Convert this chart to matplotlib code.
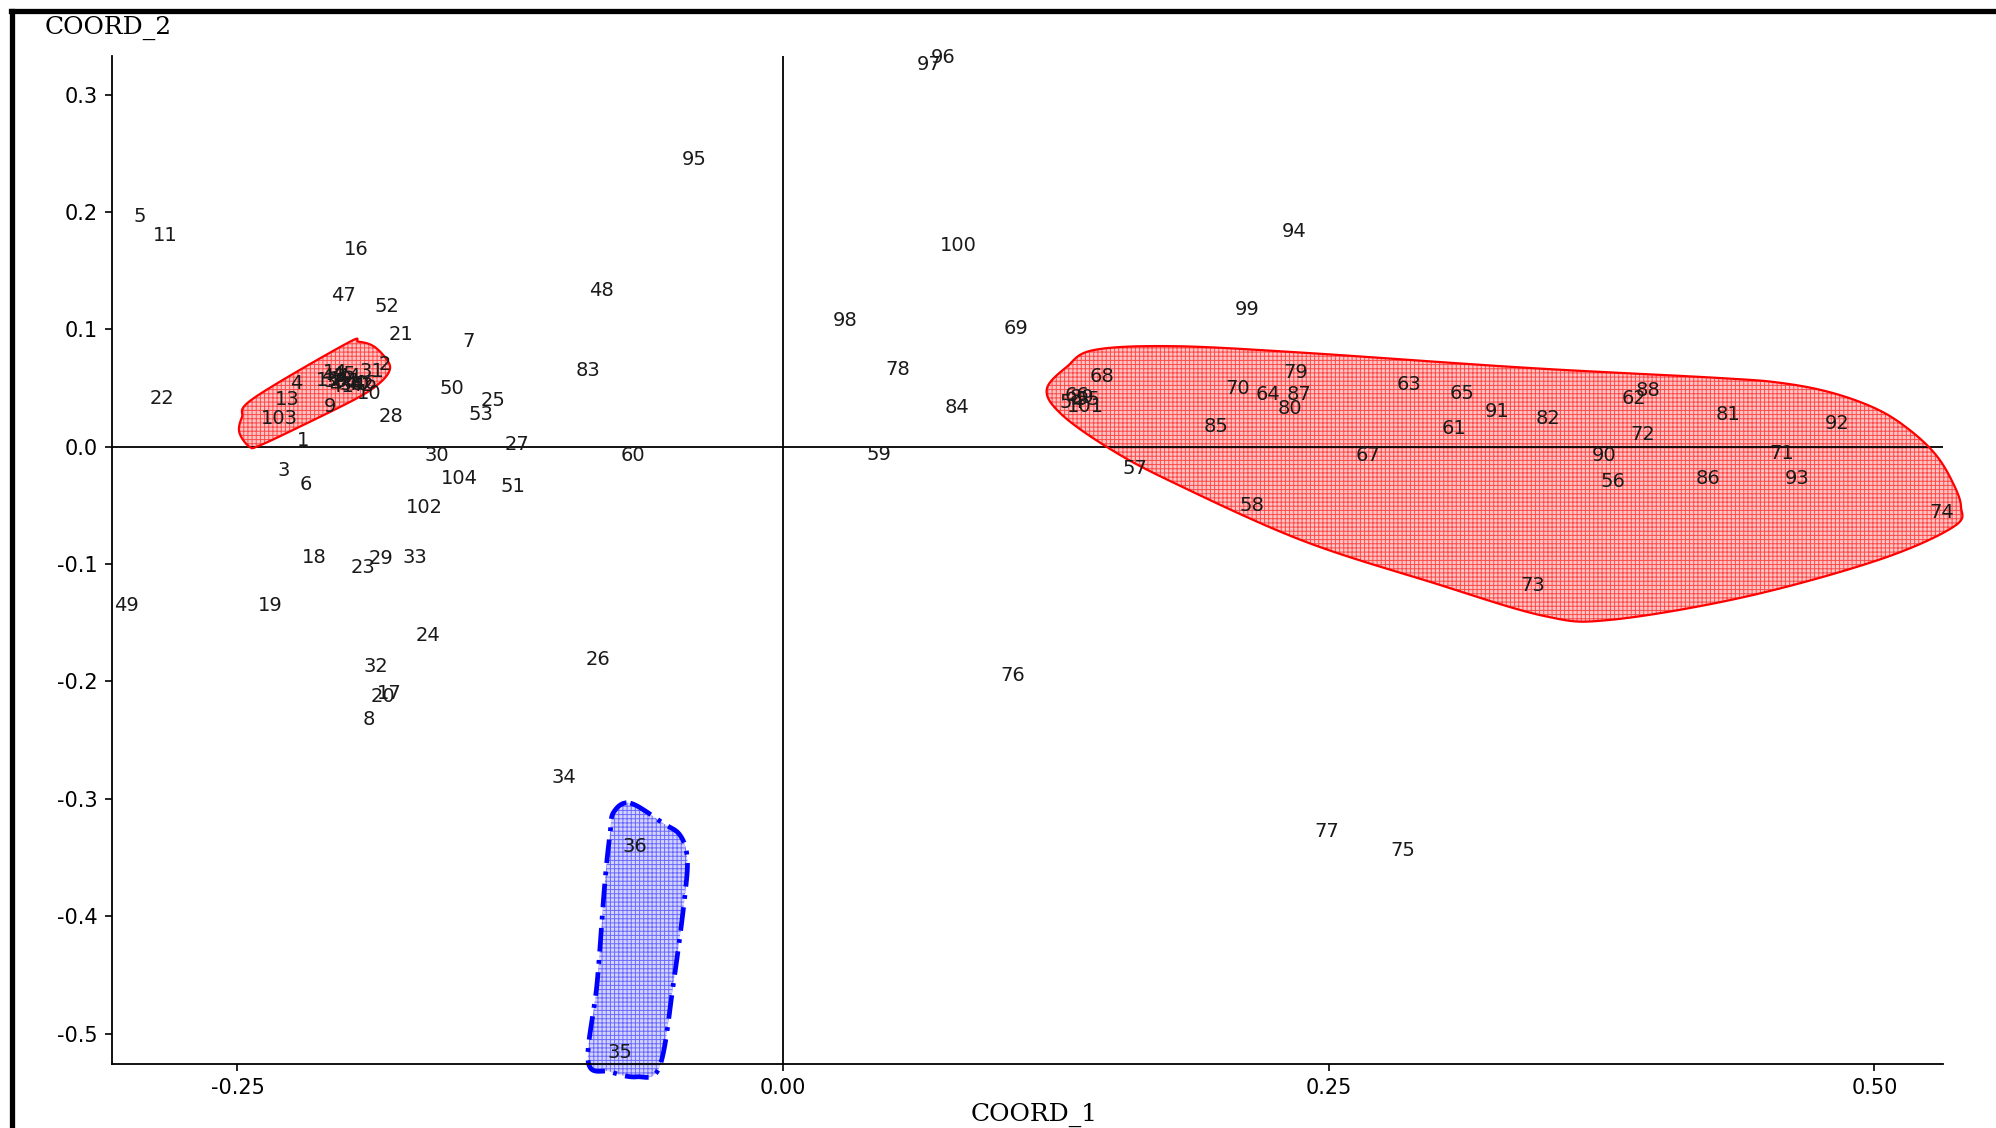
import numpy as np
import matplotlib
matplotlib.use("Agg")
import matplotlib.pyplot as plt
from matplotlib.patches import Polygon
from matplotlib.lines import Line2D

plt.rcParams['hatch.linewidth'] = 0.7

# Sample identifiers with their scores on the first two principal coordinates
labels = [
    "5", "11", "16", "47", "52", "21", "7", "48", "95", "83",
    "22", "50", "25", "53", "28", "10", "9", "13", "103", "4",
    "31", "2", "14", "15", "12", "37", "38", "39", "40", "41",
    "42", "43", "44", "45", "46", "1", "3", "6", "30", "27",
    "104", "51", "60", "102", "18", "29", "23", "33", "49", "19",
    "24", "26", "32", "17", "20", "8", "34", "36", "35",
    "96", "97", "100", "94", "98", "69", "99", "78", "84", "59",
    "68", "66", "89", "101", "54", "55", "70", "64", "87", "79",
    "80", "85", "57", "63", "65", "91", "82", "61", "67", "62",
    "88", "72", "90", "56", "81", "86", "92", "71", "93", "74",
    "73", "58", "76", "77", "75",
]
coord_1 = [
    -0.2946, -0.2830, -0.1955, -0.2013, -0.1814, -0.1750, -0.1441, -0.0834, -0.0408, -0.0893,
    -0.2847, -0.1517, -0.1330, -0.1383, -0.1797, -0.1896, -0.2077, -0.2270, -0.2310, -0.2229,
    -0.1884, -0.1826, -0.2054, -0.2083, -0.2025, -0.2001, -0.1978, -0.2048, -0.1954, -0.2025,
    -0.1931, -0.2060, -0.1990, -0.2013, -0.1920, -0.2200, -0.2287, -0.2188, -0.1587, -0.1219,
    -0.1482, -0.1237, -0.0688, -0.1645, -0.2147, -0.1844, -0.1925, -0.1686, -0.3011, -0.2351,
    -0.1628, -0.0846, -0.1867, -0.1803, -0.1832, -0.1896, -0.1004, -0.0677, -0.0747,
    0.0735, 0.0671, 0.0805, 0.2340, 0.0286, 0.1068, 0.2124, 0.0525, 0.0799, 0.0438,
    0.1459, 0.1348, 0.1371, 0.1383, 0.1325, 0.1395, 0.2083, 0.2223, 0.2363, 0.2351,
    0.2322, 0.1984, 0.1610, 0.2870, 0.3110, 0.3273, 0.3506, 0.3075, 0.2678, 0.3897,
    0.3961, 0.3938, 0.3763, 0.3804, 0.4329, 0.4236, 0.4831, 0.4574, 0.4644, 0.5309,
    0.3436, 0.2147, 0.1050, 0.2491, 0.2841,
]
coord_2 = [
    0.1963, 0.1800, 0.1681, 0.1291, 0.1193, 0.0954, 0.0900, 0.1334, 0.2451, 0.0651,
    0.0412, 0.0499, 0.0390, 0.0271, 0.0260, 0.0456, 0.0347, 0.0401, 0.0239, 0.0542,
    0.0640, 0.0705, 0.0629, 0.0564, 0.0575, 0.0553, 0.0531, 0.0553, 0.0531, 0.0510,
    0.0520, 0.0597, 0.0597, 0.0618, 0.0542, 0.0054, -0.0206, -0.0325, -0.0076, 0.0022,
    -0.0271, -0.0336, -0.0076, -0.0521, -0.0944, -0.0954, -0.1030, -0.0944, -0.1356, -0.1356,
    -0.1605, -0.1811, -0.1876, -0.2104, -0.2126, -0.2321, -0.2820, -0.3406, -0.5163,
    0.3319, 0.3254, 0.1714, 0.1833, 0.1074, 0.1009, 0.1171, 0.0662, 0.0336, -0.0065,
    0.0597, 0.0434, 0.0423, 0.0347, 0.0380, 0.0401, 0.0499, 0.0445, 0.0445, 0.0629,
    0.0325, 0.0174, -0.0184, 0.0531, 0.0456, 0.0304, 0.0239, 0.0152, -0.0076, 0.0412,
    0.0477, 0.0108, -0.0076, -0.0293, 0.0271, -0.0271, 0.0195, -0.0054, -0.0271, -0.0564,
    -0.1182, -0.0499, -0.1952, -0.3275, -0.3438,
]

# Envelope outlines of the highlighted groups
group_left_x = [-0.2445, -0.2491, -0.2480, -0.2427, -0.2000, -0.1945, -0.1875, -0.1814,
                -0.1803, -0.1849, -0.1954, -0.2211, -0.2398]
group_left_y = [0.0000, 0.0119, 0.0249, 0.0412, 0.0880, 0.0895, 0.0855, 0.0738,
                0.0651, 0.0542, 0.0412, 0.0174, 0.0011]

group_right_x = [0.1208, 0.1301, 0.1424, 0.1785, 0.2369, 0.3413, 0.4288, 0.4580,
                 0.4813, 0.5018, 0.5163, 0.5280, 0.5356, 0.5397, 0.5362, 0.5018,
                 0.4405, 0.3792, 0.3489, 0.2981, 0.2369, 0.1762, 0.1482, 0.1272]
group_right_y = [0.0488, 0.0683, 0.0824, 0.0857, 0.0803, 0.0672, 0.0586, 0.0542,
                 0.0456, 0.0315, 0.0141, -0.0065, -0.0293, -0.0510, -0.0683, -0.0965,
                 -0.1280, -0.1475, -0.1443, -0.1161, -0.0792, -0.0282, 0.0000, 0.0282]

group_blue_x = [-0.0700, -0.0548, -0.0473, -0.0440, -0.0449, -0.0502, -0.0566,
                -0.0671, -0.0793, -0.0893, -0.0852, -0.0817, -0.0793, -0.0776]
group_blue_y = [-0.3037, -0.3210, -0.3308, -0.3492, -0.3807, -0.4566, -0.5282,
                -0.5369, -0.5325, -0.5239, -0.4566, -0.3720, -0.3297, -0.3113]

x_ticks = [-0.25, 0.00, 0.25, 0.50]
x_tick_labels = ["-0.25", "0.00", "0.25", "0.50"]
y_ticks = [0.3, 0.2, 0.1, 0.0, -0.1, -0.2, -0.3, -0.4, -0.5]
y_tick_labels = ["0.3", "0.2", "0.1", "0.0", "-0.1", "-0.2", "-0.3", "-0.4", "-0.5"]


def smooth_closed(xs, ys, n=16):
    """Closed Catmull-Rom spline through the outline vertices."""
    p = np.column_stack([xs, ys])
    m = len(p)
    out = []
    for i in range(m):
        p0, p1, p2, p3 = p[i - 1], p[i], p[(i + 1) % m], p[(i + 2) % m]
        t = np.linspace(0, 1, n, endpoint=False)[:, None]
        seg = 0.5 * ((2 * p1) + (-p0 + p2) * t
                     + (2 * p0 - 5 * p1 + 4 * p2 - p3) * t ** 2
                     + (-p0 + 3 * p1 - 3 * p2 + p3) * t ** 3)
        out.append(seg)
    return np.vstack(out)


fig = plt.figure(figsize=(19.96, 11.28), dpi=100)
ax = fig.add_axes([0.0561, 0.0567, 0.9174, 0.8937])
ax.set_xlim(-0.3075, 0.5315)
ax.set_ylim(-0.526, 0.333)


def envelope(xs, ys, face, hatch_col, edge, ls, lw):
    pts = smooth_closed(xs, ys)
    fill = Polygon(pts, closed=True, facecolor=face, edgecolor=hatch_col,
                   hatch='++++', linewidth=0, clip_on=False, zorder=1)
    ax.add_patch(fill)
    line = Polygon(pts, closed=True, fill=False, edgecolor=edge,
                   linestyle=ls, linewidth=lw, clip_on=False, zorder=2)
    ax.add_patch(line)


envelope(group_left_x, group_left_y, '#ffc4c4', '#ff4a4a', '#ff0000', '-', 1.6)
envelope(group_right_x, group_right_y, '#ffc4c4', '#ff4a4a', '#ff0000', '-', 1.6)
envelope(group_blue_x, group_blue_y, '#d4d4ff', '#6a6aff', '#0000ff',
         (0, (5, 1.8, 0.8, 1.8)), 3.4)

ax.axhline(0, color='black', lw=1.3, zorder=1.5)
ax.axvline(0, color='black', lw=1.3, zorder=1.5)

for lab, x, y in zip(labels, coord_1, coord_2):
    ax.text(x, y, lab, ha='center', va='center', fontsize=14,
            color='#1a1a1a', zorder=3, family='DejaVu Sans')

for side in ('top', 'right'):
    ax.spines[side].set_visible(False)
for side in ('left', 'bottom'):
    ax.spines[side].set_linewidth(1.3)

ax.set_xticks(x_ticks)
ax.set_xticklabels(x_tick_labels)
ax.set_yticks(y_ticks)
ax.set_yticklabels(y_tick_labels)
ax.tick_params(axis='both', direction='out', length=5, width=1.2,
               labelsize=15, pad=5)

fig.text(0.0225, 0.975, "COORD_2", ha='left', va='center',
         fontsize=18, family='DejaVu Serif')
fig.text(0.518, 0.012, "COORD_1", ha='center', va='center',
         fontsize=18, family='DejaVu Serif')

# Outer frame lines
fig.add_artist(Line2D([0.0055, 1.0], [0.9905, 0.9905], transform=fig.transFigure,
                      color='black', lw=3.8))
fig.add_artist(Line2D([0.0062, 0.0062], [0.0, 0.9905], transform=fig.transFigure,
                      color='black', lw=3.8))

fig.savefig("out.png", dpi=100)
